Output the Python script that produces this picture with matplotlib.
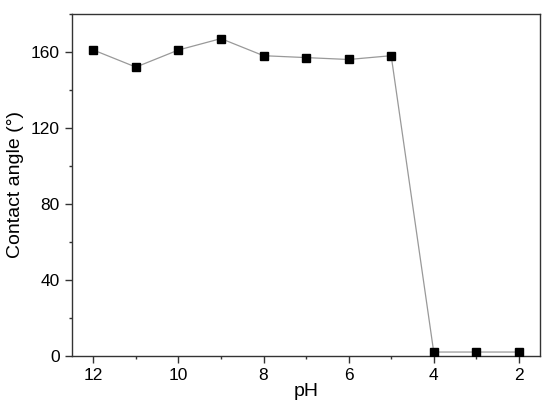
import matplotlib
matplotlib.use("Agg")
import matplotlib.pyplot as plt
from matplotlib.ticker import MultipleLocator

plt.rcParams["font.family"] = ["Liberation Sans", "DejaVu Sans"]

ph = [12, 11, 10, 9, 8, 7, 6, 5, 4, 3, 2]
contact_angle = [161, 152, 161, 167, 158, 157, 156, 158, 2, 2, 2]

fig = plt.figure(figsize=(5.5, 4.09), dpi=100)
ax = fig.add_axes([0.131, 0.130, 0.851, 0.836])

ax.plot(ph, contact_angle, color="#999999", linewidth=0.9,
        marker="s", markersize=5.5, markerfacecolor="black",
        markeredgecolor="black", zorder=3)

ax.set_xlim(12.5, 1.5)
ax.set_ylim(0, 180)
ax.xaxis.set_major_locator(MultipleLocator(2))
ax.xaxis.set_minor_locator(MultipleLocator(1))
ax.yaxis.set_major_locator(MultipleLocator(40))
ax.yaxis.set_minor_locator(MultipleLocator(20))

ax.tick_params(which="both", direction="out", top=False, right=False,
               width=1.0, color="#333333", labelsize=12.5)
ax.tick_params(which="major", length=4.8, pad=4)
ax.tick_params(which="minor", length=2.4)
for sp in ax.spines.values():
    sp.set_linewidth(1.0)
    sp.set_color("#333333")

ax.set_xlabel("pH", fontsize=14, labelpad=0)
ax.set_ylabel("Contact angle (°)", fontsize=14, labelpad=5)

fig.savefig("out.png", dpi=100)
